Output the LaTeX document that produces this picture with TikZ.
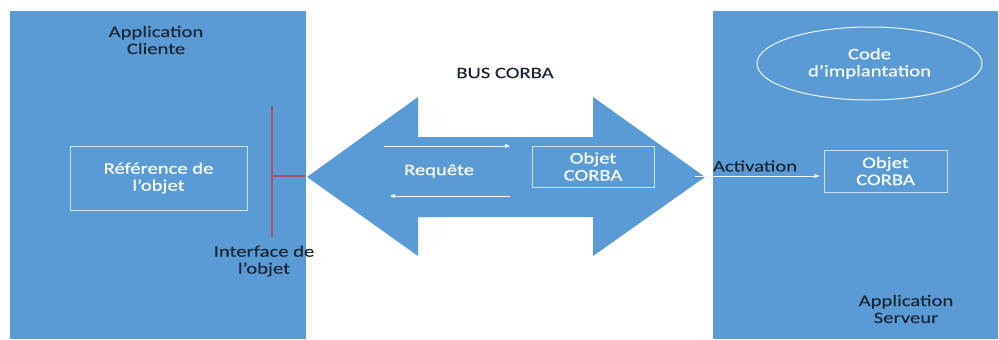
\documentclass[tikz,border=0pt]{standalone}
\usepackage{fontspec}
\setmainfont{Carlito}[FakeStretch=1.29,FakeBold=0.3]
\usetikzlibrary{arrows.meta,shapes.geometric}
\definecolor{panelblue}{RGB}{91,155,213}
\definecolor{darktext}{RGB}{28,38,52}
\definecolor{edgelight}{RGB}{205,225,243}
\definecolor{ifacered}{RGB}{172,78,110}
\begin{document}
\begin{tikzpicture}[x=1pt,y=-1pt,
  every node/.style={font=\fontsize{16}{17}\selectfont, align=center, inner sep=0pt},
  label dark/.style={text=darktext},
  boxlabel/.style={text=white, draw=edgelight, line width=1pt},
  flow/.style={draw=white!92!panelblue, line width=0.9pt, -{Triangle[length=5pt,width=4pt]}}
]
\useasboundingbox (0,0) rectangle (999,340);
\fill[white] (0,0) rectangle (999,340);

% client and server applications
\fill[panelblue] (10,11) rectangle (306,339);
\fill[panelblue] (713,11) rectangle (998,339);

% CORBA bus: double-headed block arrow
\fill[panelblue] (307,177) -- (418,97) -- (418,137) -- (593,137) -- (593,97)
  -- (705,177) -- (593,256) -- (593,217) -- (418,217) -- (418,256) -- cycle;

% client side
\node[label dark] (client) at (156,40) {Application\\Cliente};
\node[boxlabel, minimum width=177pt, minimum height=64pt] (ref) at (158.5,178) {Référence de\\l’objet};
\coordinate (ifTop) at (272,106);
\coordinate (ifBot) at (272,237);
\coordinate (ifMid) at (272,176);
\coordinate (ifEnd) at (305,176);
\draw[ifacered, line width=1.1pt] (ifTop) -- (ifBot);
\draw[ifacered, line width=1.1pt] (ifMid) -- (ifEnd);
\node[label dark] (iface) at (264,261) {Interface de\\l’objet};

% bus contents
\node[label dark] (bus) at (505,73) {BUS CORBA};
\node[text=white] (req) at (439,171) {Requête};
\node[boxlabel, minimum width=122pt, minimum height=41pt] (busobj) at (593,166.5) {Objet\\CORBA};
\coordinate (reqA) at (384,146);
\coordinate (reqB) at (510,146);
\coordinate (repA) at (510,196);
\coordinate (repB) at (390,196);
\draw[flow] (reqA) -- (reqB);
\draw[flow] (repA) -- (repB);

% server side
\node[ellipse, draw=white!90!panelblue, line width=1pt, minimum width=225pt, minimum height=73pt, text=white] (impl) at (869.5,63.5) {Code\\d’implantation};
\node[boxlabel, minimum width=123pt, minimum height=42pt] (srvobj) at (885.5,171) {Objet\\CORBA};
\coordinate (busTip) at (695,176);
\draw[flow] (busTip) -- ([xshift=-4pt]srvobj.west |- busTip);
\node[label dark] (act) at (755,166) {Activation};
\node[label dark] (server) at (906,309) {Application\\Serveur};
\end{tikzpicture}
\end{document}
